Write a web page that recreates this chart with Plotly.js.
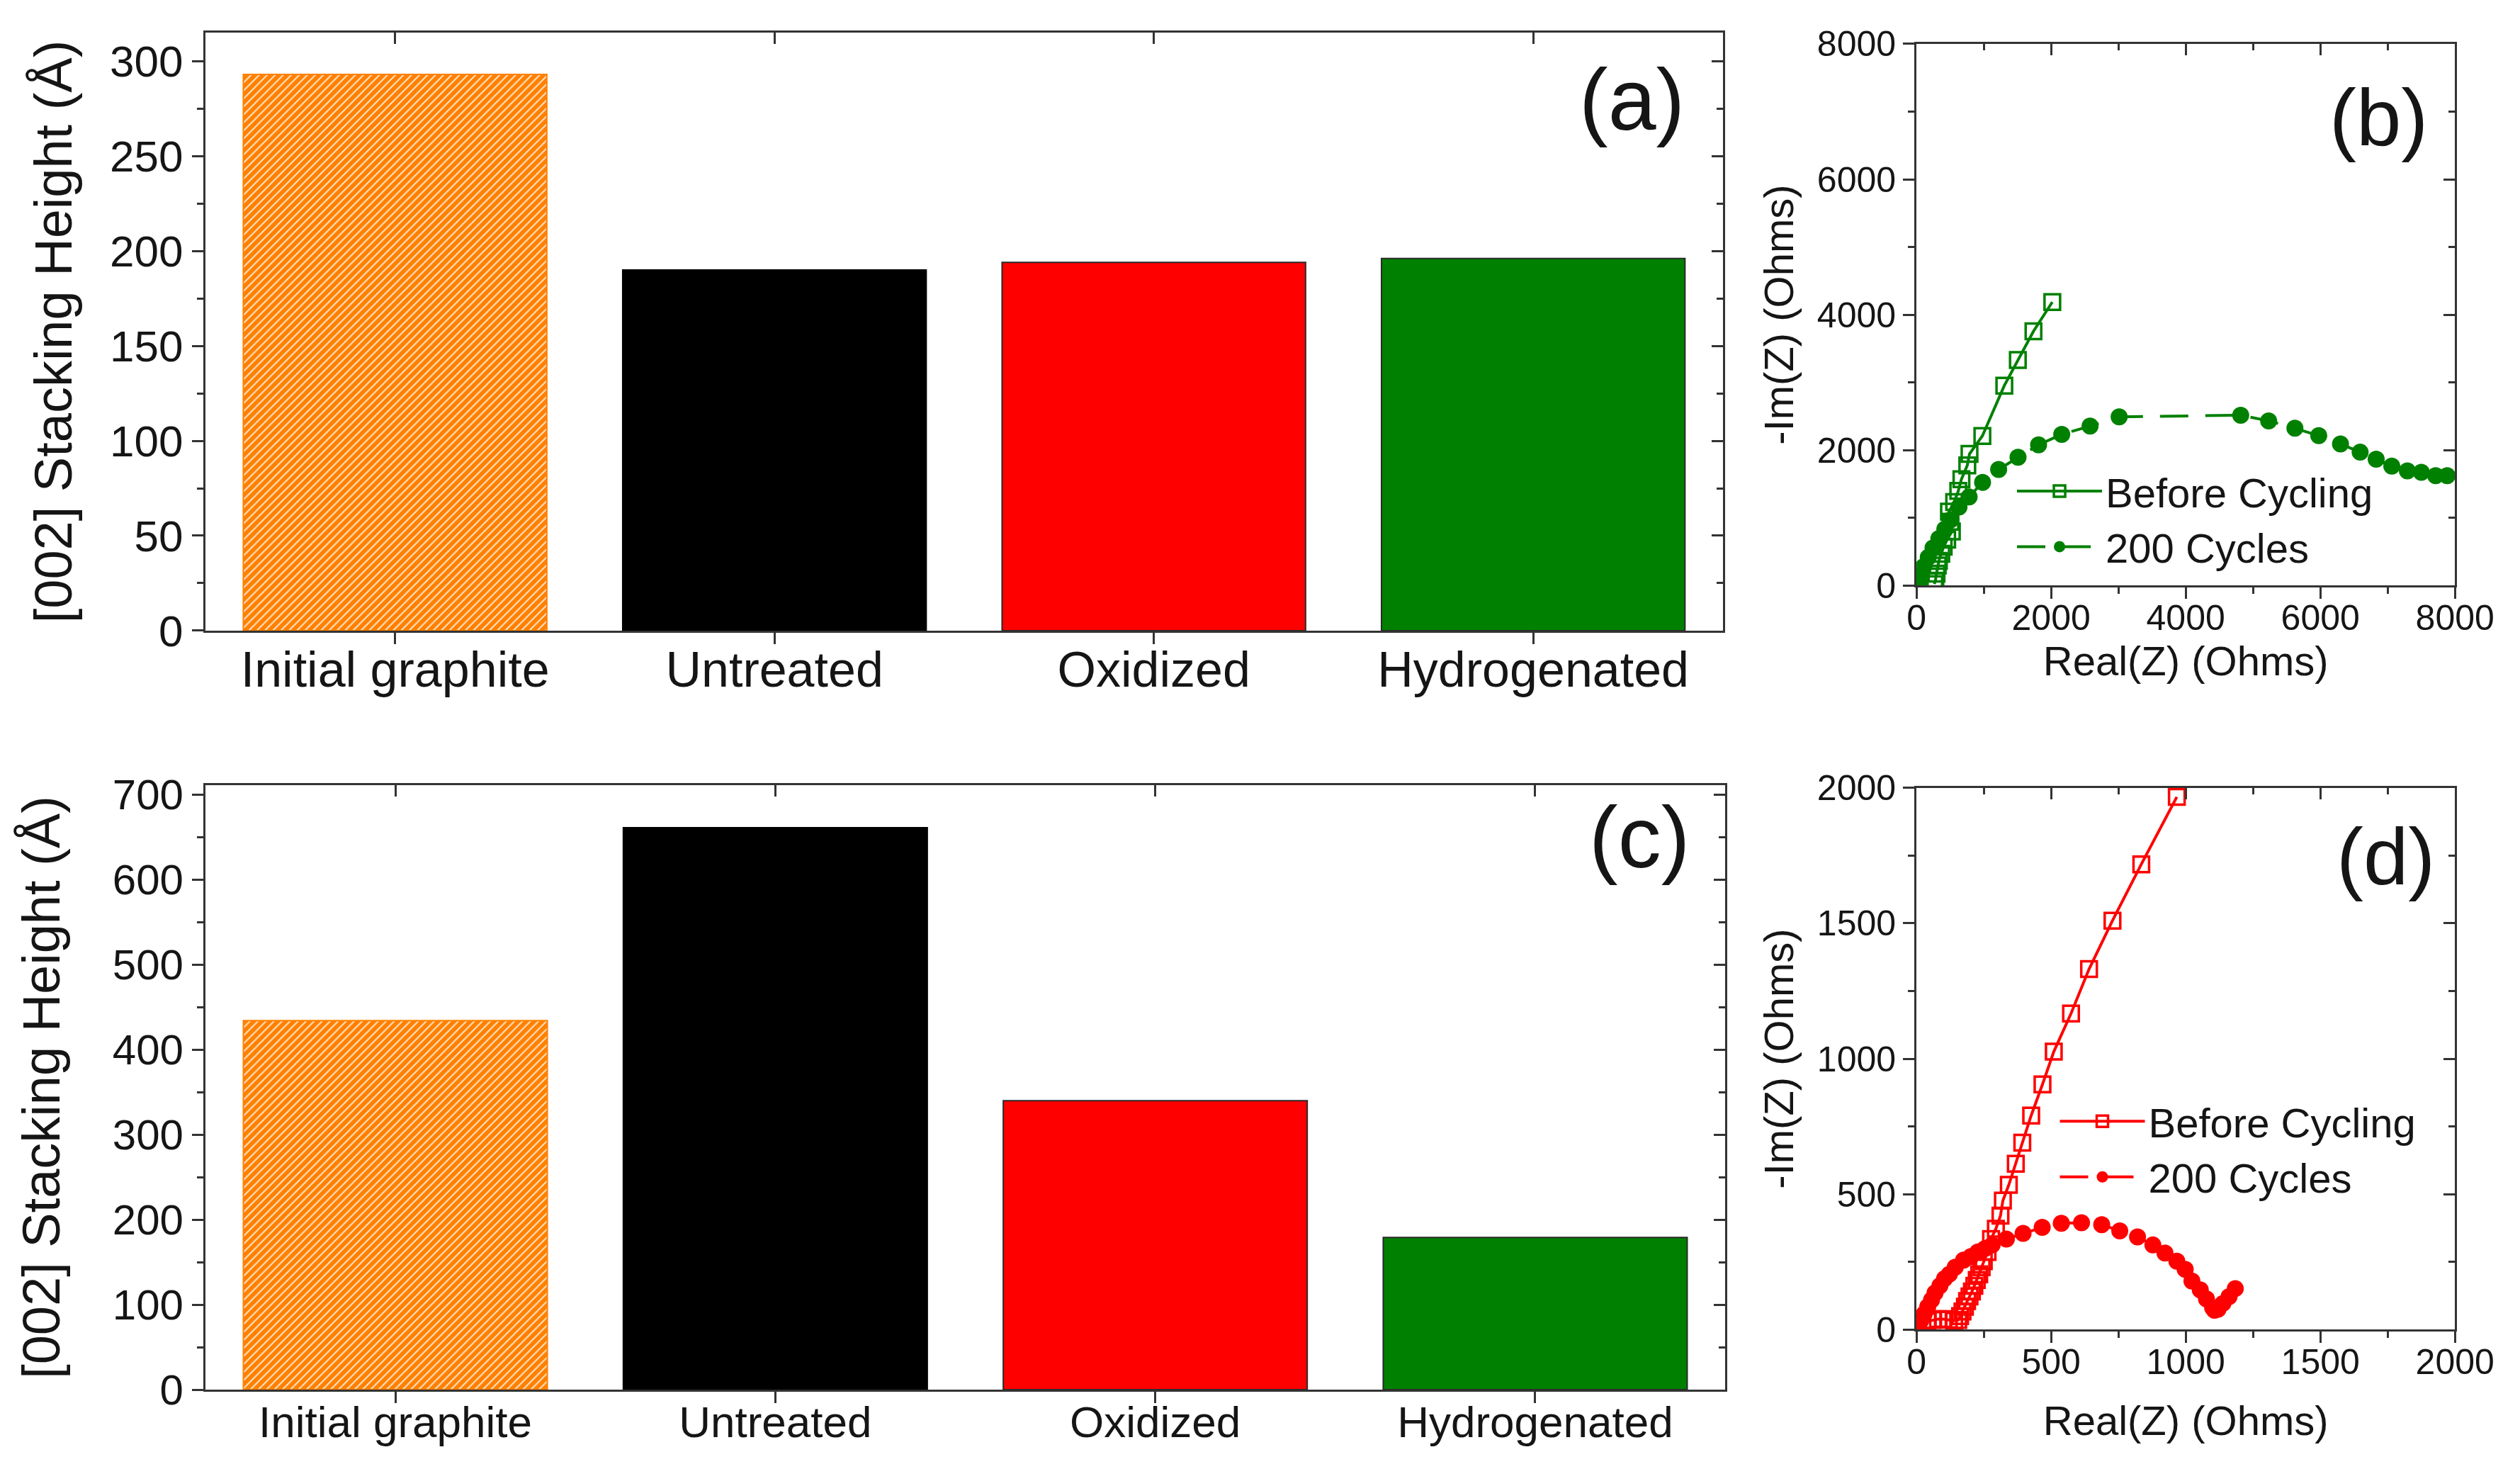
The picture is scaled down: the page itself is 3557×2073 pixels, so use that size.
<!DOCTYPE html>
<html>
<head>
<meta charset="utf-8">
<script src="https://cdn.plot.ly/plotly-3.0.1.min.js"></script>
<style>
  html, body { margin: 0; padding: 0; background: #fff; }
  #chart { width: 3557px; height: 2073px; }
</style>
</head>
<body>
<div id="chart"></div>
<script>
// stacking height of the [002] peak, panels (a) and (c)
const samples = ['Initial graphite', 'Untreated', 'Oxidized', 'Hydrogenated'];
const heightA = [293, 190, 194, 196];
const heightC = [434, 661, 340, 179];

// Nyquist data, panel (b)
const bBeforeRe = [265, 281, 298, 316, 333, 368, 404, 456, 526, 505, 483, 560, 621, 668, 755, 788, 979, 1305, 1506, 1738, 2018];
const bBeforeIm = [20, 69, 173, 294, 363, 467, 571, 675, 796, 940, 1090, 1230, 1395, 1568, 1773, 1943, 2208, 2952, 3331, 3755, 4186];
const bCycledRe = [0, 20, 53, 105, 175, 246, 333, 421, 509, 632, 782, 982, 1221, 1509, 1814, 2158, 2579, 3011, 4817, 5232, 5622, 5976, 6299, 6591, 6829, 7061, 7293, 7500, 7713, 7884];
const bCycledIm = [0, 60, 138, 277, 415, 554, 692, 830, 969, 1159, 1308, 1522, 1713, 1893, 2076, 2232, 2353, 2491, 2514, 2431, 2322, 2212, 2090, 1968, 1865, 1762, 1691, 1672, 1621, 1621];

// Nyquist data, panel (d)
const dBeforeRe = [40, 60, 80, 100, 120, 140, 155, 162, 171, 180, 188, 197, 206, 215, 224, 233, 242, 250, 264, 277, 295, 312, 321, 343, 369, 393, 426, 468, 510, 574, 641, 728, 835, 967];
const dBeforeIm = [30, 35, 38, 38, 36, 32, 35, 49, 66, 84, 105, 122, 140, 161, 183, 204, 230, 252, 286, 334, 372, 420, 476, 534, 612, 690, 790, 905, 1026, 1167, 1331, 1510, 1718, 1967];
const dCycledRe = [0, 16, 29, 42, 56, 69, 87, 104, 122, 144, 175, 202, 228, 255, 281, 334, 396, 467, 538, 613, 688, 755, 821, 878, 923, 967, 998, 1023, 1054, 1077, 1100, 1107, 1120, 1138, 1161, 1184];
const dCycledIm = [0, 32, 58, 84, 109, 135, 161, 187, 204, 230, 256, 269, 286, 299, 312, 334, 355, 377, 392, 394, 387, 364, 342, 312, 282, 252, 222, 179, 146, 113, 80, 71, 75, 96, 121, 151];

const seriesNames = ['Before Cycling', '200 Cycles'];
const panelTags = ['(a)', '(b)', '(c)', '(d)'];

const barColors = ['#FF8000', '#000000', '#FF0000', '#008000'];
const barEdges = ['#FF8000', '#000000', '#2a2a2a', '#2a2a2a'];
const barHatch = ['/', '', '', ''];

const FONT = 'Liberation Sans, Arial, sans-serif';
const INK = '#151515';
const AX = '#333333';
const GREEN = '#008000';
const RED = '#FF0000';

const idx = samples.map((s, i) => i);

function frameAxis(extra) {
  return Object.assign({
    showline: true, mirror: true, linecolor: AX, linewidth: 3,
    showgrid: false, zeroline: false,
    ticks: 'outside', ticklen: 16, tickwidth: 3, tickcolor: AX,
    tickfont: {family: FONT, size: 50, color: INK},
    fixedrange: true
  }, extra);
}

function innerTicks(extra) {
  return Object.assign({
    showline: false, showgrid: false, zeroline: false,
    ticks: 'inside', ticklen: 16, tickwidth: 3, tickcolor: AX,
    showticklabels: false, fixedrange: true
  }, extra);
}

function minorTicks(dir, step) {
  return {ticks: dir, ticklen: 9, tickwidth: 3, tickcolor: AX, dtick: step};
}

// one trace per bar so that a scalar colour keeps the hatch colours intact
function barTraces(values, xa, ya) {
  return samples.map((s, i) => {
    const marker = {color: barColors[i], line: {color: barEdges[i], width: 2}};
    if (barHatch[i]) {
      marker.pattern = {shape: barHatch[i], fillmode: 'replace', bgcolor: barColors[i],
        fgcolor: '#FFE4C8', fgopacity: 1, size: 8, solidity: 0.26};
    }
    return {type: 'bar', x: [s], y: [values[i]], xaxis: xa, yaxis: ya, width: 0.8,
      marker: marker, showlegend: false, hoverinfo: 'skip'};
  });
}

function nyquist(re, im, name, color, filled, xa, ya, leg) {
  return {
    type: 'scatter', mode: 'lines+markers', name: name, x: re, y: im,
    xaxis: xa, yaxis: ya, legend: leg,
    line: {color: color, width: 4, dash: filled ? '40px,24px' : 'solid'},
    marker: filled
      ? {symbol: 'circle', size: 24, color: color, line: {width: 0}}
      : {symbol: 'square-open', size: 22, color: color, line: {width: 3.5, color: color}},
    hoverinfo: 'skip'
  };
}

// invisible carriers for the inward ticks on top and right edges
function carrier(x, y, xa, ya) {
  return {type: 'scatter', mode: 'markers', x: x, y: y, xaxis: xa, yaxis: ya,
    marker: {opacity: 0}, showlegend: false, hoverinfo: 'skip'};
}

const traces = [
  ...barTraces(heightA, 'x', 'y'),
  ...barTraces(heightC, 'x3', 'y3'),
  nyquist(bBeforeRe, bBeforeIm, seriesNames[0], GREEN, false, 'x2', 'y2', 'legend'),
  nyquist(bCycledRe, bCycledIm, seriesNames[1], GREEN, true, 'x2', 'y2', 'legend'),
  nyquist(dBeforeRe, dBeforeIm, seriesNames[0], RED, false, 'x4', 'y4', 'legend2'),
  nyquist(dCycledRe, dCycledIm, seriesNames[1], RED, true, 'x4', 'y4', 'legend2'),
  carrier(idx, heightA, 'x5', 'y5'),
  carrier(bCycledRe, bCycledIm, 'x6', 'y6'),
  carrier(idx, heightC, 'x7', 'y7'),
  carrier(dCycledRe, dCycledIm, 'x8', 'y8')
];

const yTitleFont = {family: FONT, size: 74, color: INK};
const eisTitleFont = {family: FONT, size: 58, color: INK};

const layout = {
  width: 3557, height: 2073,
  margin: {l: 0, r: 0, t: 0, b: 0},
  paper_bgcolor: '#fff', plot_bgcolor: '#fff',
  showlegend: true,
  barmode: 'overlay',

  // (a)
  xaxis: frameAxis({domain: [0.0815, 0.6837], anchor: 'y', type: 'category', range: [-0.5, 3.5],
    ticklabelstandoff: -24,
    tickfont: {family: FONT, size: 70, color: INK}}),
  yaxis: frameAxis({domain: [0.5707, 0.9778], anchor: 'x', range: [0, 315], dtick: 50,
    tickfont: {family: FONT, size: 62, color: INK},
    minor: minorTicks('outside', 25),
    title: {text: '[002] Stacking Height (Å)', font: yTitleFont, standoff: 30}}),
  xaxis5: innerTicks({overlaying: 'x', side: 'top', anchor: 'y5', range: [-0.5, 3.5], tickvals: idx}),
  yaxis5: innerTicks({overlaying: 'y', side: 'right', anchor: 'x5', range: [0, 315], dtick: 50,
    minor: minorTicks('inside', 25)}),

  // (c)
  xaxis3: frameAxis({domain: [0.0815, 0.6846], anchor: 'y3', type: 'category', range: [-0.5, 3.5],
    ticklabelstandoff: -26,
    tickfont: {family: FONT, size: 62, color: INK}}),
  yaxis3: frameAxis({domain: [0.0540, 0.4655], anchor: 'x3', range: [0, 711], dtick: 100,
    tickfont: {family: FONT, size: 60, color: INK},
    minor: minorTicks('outside', 50),
    title: {text: '[002] Stacking Height (Å)', font: yTitleFont, standoff: 50}}),
  xaxis7: innerTicks({overlaying: 'x3', side: 'top', anchor: 'y7', range: [-0.5, 3.5], tickvals: idx}),
  yaxis7: innerTicks({overlaying: 'y3', side: 'right', anchor: 'x7', range: [0, 711], dtick: 100,
    minor: minorTicks('inside', 50)}),

  // (b)
  xaxis2: frameAxis({domain: [0.7605, 0.9742], anchor: 'y2', range: [0, 8000], dtick: 2000,
    ticklabelstandoff: -16,
    minor: minorTicks('outside', 1000),
    title: {text: 'Real(Z) (Ohms)', font: eisTitleFont, standoff: 4}}),
  yaxis2: frameAxis({domain: [0.6015, 0.9701], anchor: 'x2', range: [0, 8000], dtick: 2000,
    minor: minorTicks('outside', 1000),
    title: {text: '-Im(Z) (Ohms)', font: eisTitleFont, standoff: 15}}),
  xaxis6: innerTicks({overlaying: 'x2', side: 'top', anchor: 'y6', range: [0, 8000], dtick: 2000,
    minor: minorTicks('inside', 1000)}),
  yaxis6: innerTicks({overlaying: 'y2', side: 'right', anchor: 'x6', range: [0, 8000], dtick: 2000,
    minor: minorTicks('inside', 1000)}),

  // (d)
  xaxis4: frameAxis({domain: [0.7605, 0.9742], anchor: 'y4', range: [0, 2000], dtick: 500,
    ticklabelstandoff: -16,
    minor: minorTicks('outside', 250),
    title: {text: 'Real(Z) (Ohms)', font: eisTitleFont, standoff: 36}}),
  yaxis4: frameAxis({domain: [0.0950, 0.4636], anchor: 'x4', range: [0, 2000], dtick: 500,
    minor: minorTicks('outside', 250),
    title: {text: '-Im(Z) (Ohms)', font: eisTitleFont, standoff: 15}}),
  xaxis8: innerTicks({overlaying: 'x4', side: 'top', anchor: 'y8', range: [0, 2000], dtick: 500,
    minor: minorTicks('inside', 250)}),
  yaxis8: innerTicks({overlaying: 'y4', side: 'right', anchor: 'x8', range: [0, 2000], dtick: 500,
    minor: minorTicks('inside', 250)}),

  legend: {x: 0.799, y: 0.687, xanchor: 'left', yanchor: 'top', bgcolor: 'rgba(0,0,0,0)',
    font: {family: FONT, size: 58, color: INK}, itemwidth: 120, tracegroupgap: 0},
  legend2: {x: 0.816, y: 0.258, xanchor: 'left', yanchor: 'top', bgcolor: 'rgba(0,0,0,0)',
    font: {family: FONT, size: 58, color: INK}, itemwidth: 120, tracegroupgap: 0},

  annotations: [
    {text: panelTags[0], x: 0.6475, y: 0.932, size: 122},
    {text: panelTags[1], x: 0.944, y: 0.920, size: 114},
    {text: panelTags[2], x: 0.6506, y: 0.430, size: 122},
    {text: panelTags[3], x: 0.9466, y: 0.417, size: 114}
  ].map(a => ({
    text: a.text, x: a.x, y: a.y, xref: 'paper', yref: 'paper',
    xanchor: 'center', yanchor: 'middle', showarrow: false,
    font: {family: FONT, size: a.size, color: INK}
  }))
};

Plotly.newPlot('chart', traces, layout, {displayModeBar: false, staticPlot: true});
</script>
</body>
</html>
